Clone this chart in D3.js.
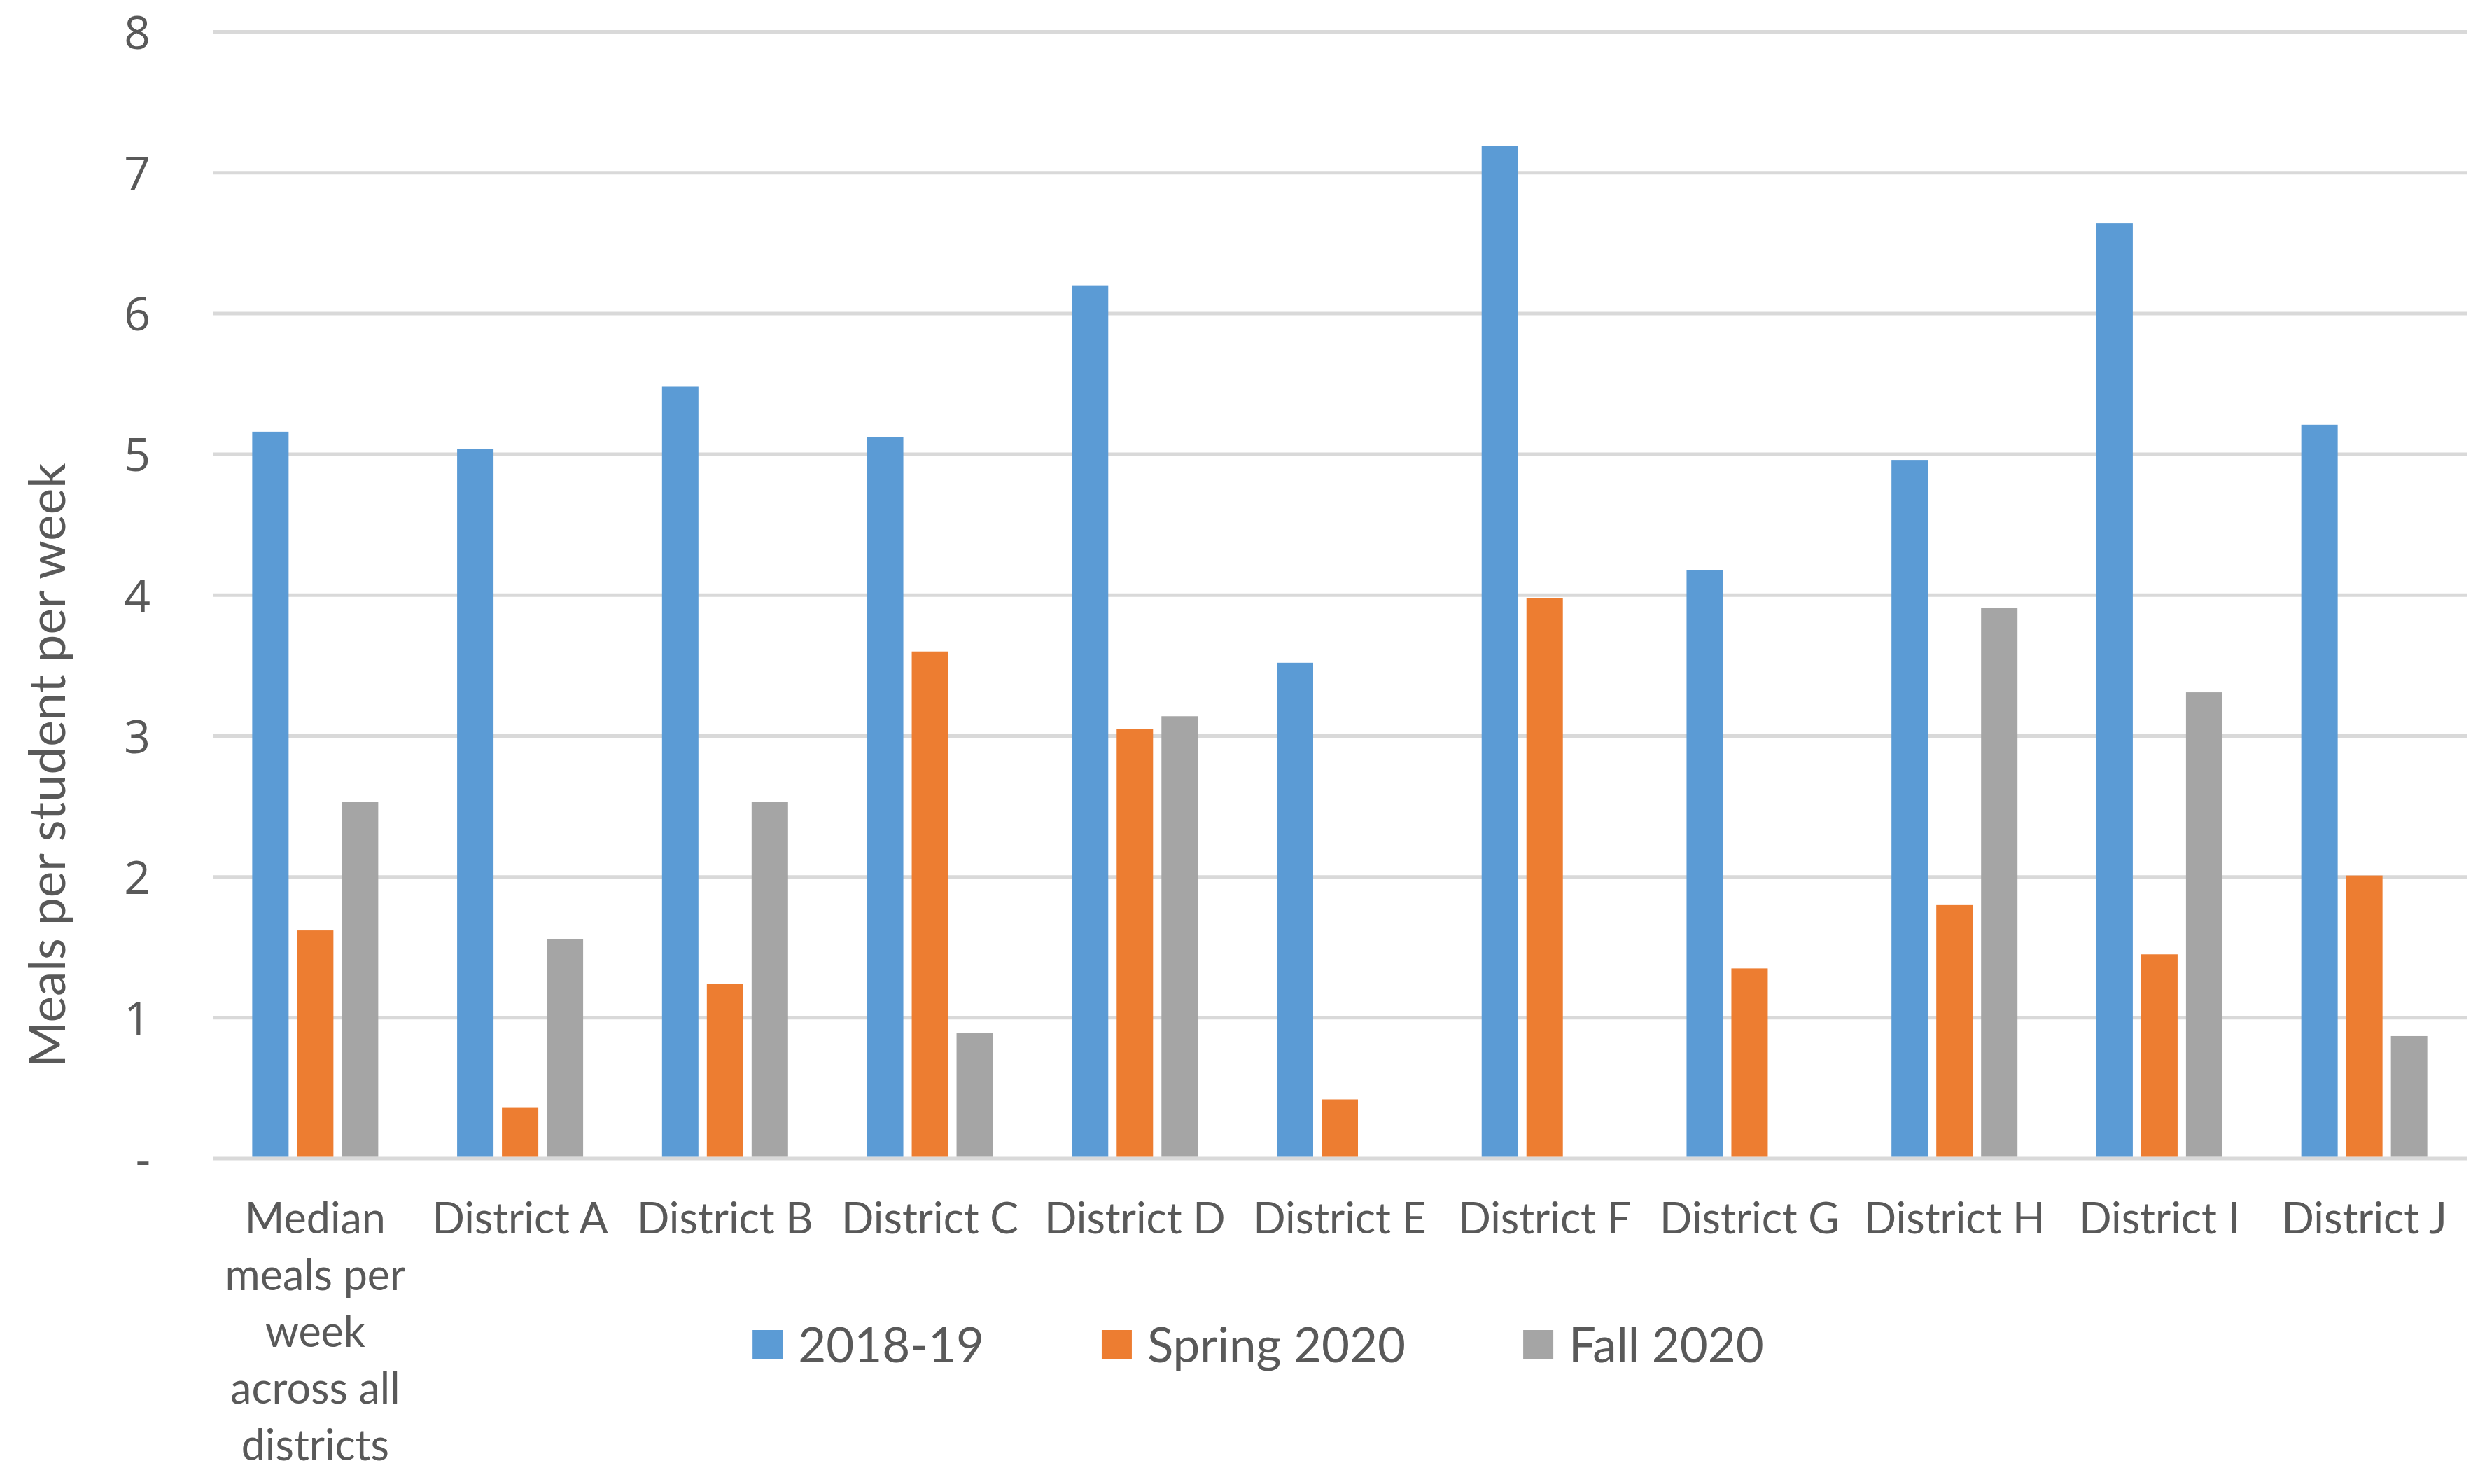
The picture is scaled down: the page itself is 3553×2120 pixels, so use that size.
<!DOCTYPE html>
<html>
<head>
<meta charset="utf-8">
<script src="https://cdn.jsdelivr.net/npm/d3@7"></script>
<style>
  html, body { margin: 0; padding: 0; background: #ffffff; }
  svg { display: block; }
</style>
</head>
<body>
<svg id="chart" width="3553" height="2120"></svg>
<script>
// ---- data ----
const categories = [
  "Median meals per week across all districts",
  "District A", "District B", "District C", "District D", "District E",
  "District F", "District G", "District H", "District I", "District J"
];
const seriesNames = ["2018-19", "Spring 2020", "Fall 2020"];
const values2018 = [5.16, 5.04, 5.48, 5.12, 6.20, 3.52, 7.19, 4.18, 4.96, 6.64, 5.21];
const valuesSpring2020 = [1.62, 0.36, 1.24, 3.60, 3.05, 0.42, 3.98, 1.35, 1.80, 1.45, 2.01];
const valuesFall2020 = [2.53, 1.56, 2.53, 0.89, 3.14, 0, 0, 0, 3.91, 3.31, 0.87];
const yTickValues = [0, 1, 2, 3, 4, 5, 6, 7, 8];
const yAxisTitle = "Meals per student per week";

// ---- layout ----
const W = 3553, H = 2120;
const plot = { left: 304, right: 3524, top: 45.5, bottom: 1655 };
const textColor = "#595959";
const gridColor = "#d9d9d9";
const catFont = "Lato, 'Open Sans', sans-serif";

const svg = d3.select("#chart");

const x = d3.scaleBand().domain(categories).range([plot.left, plot.right]).padding(0);
const groupW = 180;
const xs = d3.scaleBand().domain(seriesNames)
  .range([(x.step() - groupW) / 2, (x.step() + groupW) / 2])
  .paddingInner(0.1875).paddingOuter(0);
const y = d3.scaleLinear().domain([0, 8]).range([plot.bottom, plot.top]);
const color = d3.scaleOrdinal().domain(seriesNames).range(["#5b9bd5", "#ed7d31", "#a5a5a5"]);

const seriesValues = [values2018, valuesSpring2020, valuesFall2020];
const rows = categories.map((c, i) => ({
  cat: c,
  vals: seriesNames.map((s, j) => ({ s, v: seriesValues[j][i] }))
}));

// gridlines
svg.append("g").selectAll("line").data(yTickValues).join("line")
  .attr("x1", plot.left).attr("x2", plot.right)
  .attr("y1", d => y(d)).attr("y2", d => y(d))
  .attr("stroke", gridColor).attr("stroke-width", 5);

// bars
const groups = svg.append("g").selectAll("g").data(rows).join("g")
  .attr("transform", d => `translate(${x(d.cat)},0)`);
groups.selectAll("rect").data(d => d.vals.filter(v => v.v > 0)).join("rect")
  .attr("x", d => xs(d.s))
  .attr("width", xs.bandwidth())
  .attr("y", d => y(d.v))
  .attr("height", d => y(0) - y(d.v) - 2.5)
  .attr("fill", d => color(d.s));

// y axis
const yAxis = d3.axisLeft(y).tickValues(yTickValues).tickSize(0).tickPadding(0)
  .tickFormat(d => d === 0 ? "-" : d3.format("d")(d));
const gy = svg.append("g").attr("transform", `translate(215,0)`).call(yAxis);
gy.select(".domain").remove();
gy.selectAll("text")
  .attr("fill", textColor)
  .style("font-family", "'Open Sans', sans-serif")
  .style("font-size", "66px")
  .attr("dy", "0.36em");

// y axis title
svg.append("text")
  .attr("transform", `translate(93,${(657 + 1530) / 2}) rotate(-90)`)
  .attr("text-anchor", "middle")
  .attr("fill", textColor)
  .style("font-family", catFont)
  .style("font-size", "71px")
  .text(yAxisTitle);

// x axis labels
const xAxis = d3.axisBottom(x).tickSize(0).tickPadding(0);
const gx = svg.append("g").attr("transform", `translate(0,${plot.bottom})`).call(xAxis);
gx.select(".domain").remove();
gx.selectAll("text")
  .attr("fill", textColor)
  .style("font-family", catFont)
  .style("font-size", "61px")
  .attr("y", 0).attr("dy", 0)
  .each(function(d) {
    const t = d3.select(this);
    const words = d.split(/\s+/);
    t.text(null);
    const maxW = x.step() - 8;
    let line = [];
    let lines = [];
    const probe = t.append("tspan");
    words.forEach(w => {
      const test = line.concat([w]).join(" ");
      probe.text(test);
      if (probe.node().getComputedTextLength() > maxW && line.length) {
        lines.push(line.join(" "));
        line = [w];
      } else {
        line.push(w);
      }
    });
    lines.push(line.join(" "));
    probe.remove();
    lines.forEach((l, i) => {
      t.append("tspan").attr("x", 0).attr("y", 107 + i * 81).text(l);
    });
  });

// legend
const legend = svg.append("g");
const items = legend.selectAll("g").data(seriesNames).join("g");
items.append("rect").attr("width", 43).attr("height", 42).attr("y", 1900)
  .attr("fill", d => color(d));
items.append("text").attr("x", 65).attr("y", 1946)
  .attr("fill", textColor)
  .style("font-family", catFont)
  .style("font-size", "69px")
  .text(d => d);
let widths = [];
items.each(function() { widths.push(this.querySelector("text").getComputedTextLength()); });
const gap = 168;
const total = widths.reduce((a, w) => a + 65 + w, 0) + gap * (widths.length - 1);
let cx = 1797.5 - total / 2;
items.attr("transform", (d, i) => {
  const tx = cx;
  cx += 65 + widths[i] + gap;
  return `translate(${tx},0)`;
});
</script>
</body>
</html>
